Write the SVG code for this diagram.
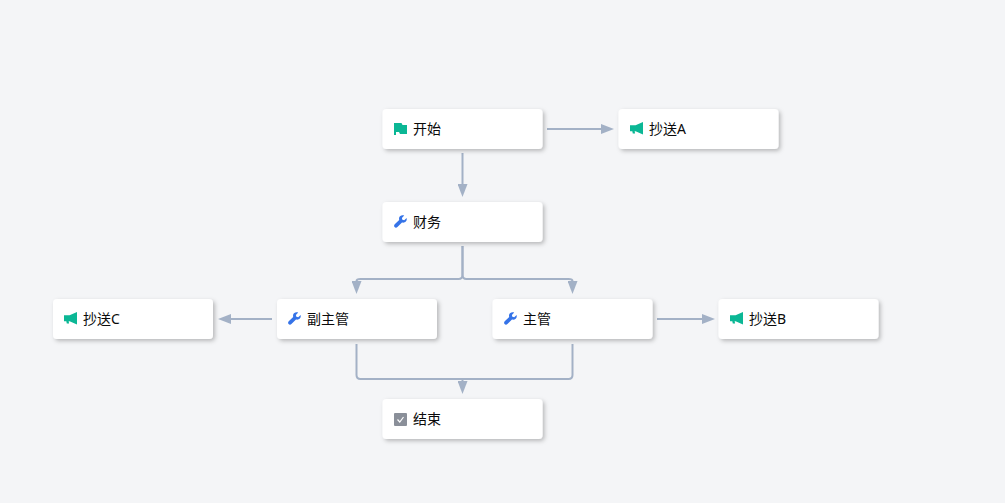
<svg xmlns="http://www.w3.org/2000/svg" width="1005" height="503" viewBox="0 0 1005 503">
<style>
.box{fill:#fff;filter:url(#sh)}
.t{font-family:"Noto Sans","Noto Sans CJK SC",sans-serif;font-size:14px;fill:#0a0a0a}
.c{fill:none;stroke:#a3b1c6;stroke-width:2}
.flag,.horn{fill:#0bb795}
.wrench{fill:#3573e8}
</style>
<defs>
<filter id="sh" x="-10%" y="-20%" width="120%" height="150%"><feDropShadow dx="2" dy="2" stdDeviation="2" flood-color="#000" flood-opacity=".25"/></filter>
<marker id="a" viewBox="0 0 13 10" markerUnits="userSpaceOnUse" markerWidth="13" markerHeight="10" refX="0" refY="5" orient="auto"><path d="M0 0L13 5L0 10Z" fill="#a3b1c6"/></marker>
<symbol id="horn" viewBox="0 0 14 14" overflow="visible"><path class="horn" d="M0 3.500H6L14 0V13.500L6 10H5L5.500 12.500H3L2.500 10H0Z"/></symbol>
<symbol id="wr" viewBox="0 0 14 14" overflow="visible"><path class="wrench" d="M13.600 3.300L11 5.600L9 5.100L8.500 3.100L11 .6C8.500 -.4 6 .8 5.500 3C5.300 3.900 5.400 4.700 5.600 5.300L.8 10C-.2 11 0 12.300 .6 13C1.400 13.800 2.800 13.800 3.700 13L8.600 8.100C11.500 8.900 14.400 6.800 13.600 3.300Z"/></symbol>
</defs>
<rect width="1005" height="503" fill="#f4f5f7"/>
<g id="connectors">
<path class="c" marker-end="url(#a)" d="M547 129H601"/>
<path class="c" marker-end="url(#a)" d="M462.500 153V184"/>
<path class="c" marker-end="url(#a)" d="M462.500 246V275Q462.500 279 458.500 279H360.500Q356.500 279 356.500 281"/>
<path class="c" marker-end="url(#a)" d="M462.500 246V275Q462.500 279 466.500 279H568.500Q572.500 279 572.500 281"/>
<path class="c" marker-end="url(#a)" d="M272 319H231"/>
<path class="c" marker-end="url(#a)" d="M657 319H702"/>
<path class="c" d="M356.500 344V375Q356.500 379 360.500 379H568.500Q572.500 379 572.500 375V344"/>
<path class="c" marker-end="url(#a)" d="M462.500 379V381"/>
</g>
<g id="start"><rect class="box" x="382.500" y="109" width="160" height="40" rx="4"/>
<path class="flag" d="M394 123H401.500L402.500 125H407V134H400L399 132H396V135H394Z"/><text class="t" x="413" y="134">开始</text></g>
<g id="ccA"><rect class="box" x="618.500" y="109" width="160" height="40" rx="4"/>
<use href="#horn" x="630" y="122" width="13" height="13"/><text class="t" x="649" y="134">抄送A</text></g>
<g id="finance"><rect class="box" x="382.500" y="202" width="160" height="40" rx="4"/>
<use href="#wr" x="394" y="215" width="13" height="13"/><text class="t" x="413" y="227">财务</text></g>
<g id="deputy"><rect class="box" x="277" y="299" width="160" height="40" rx="4"/>
<use href="#wr" x="288" y="312" width="13" height="13"/><text class="t" x="307" y="324">副主管</text></g>
<g id="manager"><rect class="box" x="492.500" y="299" width="160" height="40" rx="4"/>
<use href="#wr" x="504" y="312" width="13" height="13"/><text class="t" x="523" y="324">主管</text></g>
<g id="ccC"><rect class="box" x="53" y="299" width="160" height="40" rx="4"/>
<use href="#horn" x="64" y="312" width="13" height="13"/><text class="t" x="83" y="324">抄送C</text></g>
<g id="ccB"><rect class="box" x="718.500" y="299" width="160" height="40" rx="4"/>
<use href="#horn" x="730" y="312" width="13" height="13"/><text class="t" x="749" y="324">抄送B</text></g>
<g id="end"><rect class="box" x="382.500" y="399" width="160" height="40" rx="4"/>
<rect x="394" y="413" width="13" height="13" rx="1" fill="#8a8f99"/><path d="M397.500 419.500L399.800 422L403.500 417" fill="none" stroke="#fff" stroke-width="1.200"/><text class="t" x="413" y="424">结束</text></g>
</svg>
